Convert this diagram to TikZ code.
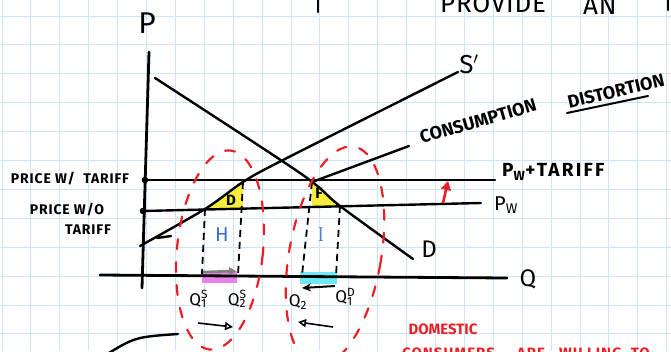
\documentclass[tikz,border=0pt]{standalone}
\usepackage{fontspec}
\setsansfont{Fira Sans}
\usetikzlibrary{arrows.meta, positioning, calc}

\definecolor{paperblue}{RGB}{204,230,248}
\definecolor{penred}{RGB}{234,32,38}
\definecolor{penblue}{RGB}{58,112,204}
\definecolor{hiyellow}{RGB}{246,236,60}
\definecolor{hipink}{RGB}{232,130,232}
\definecolor{hicyan}{RGB}{110,232,244}

\tikzset{
    pen/.style={line width=2.4pt, line cap=round, line join=round},
    guide/.style={line width=1.8pt, dash pattern=on 7pt off 5pt},
    loopline/.style={draw=penred, line width=2.2pt, line cap=round, dash pattern=on 10pt off 13pt},
    hand/.style={font=\sffamily\fontsize{#1}{#1}\selectfont, inner sep=0pt},
    hand/.default=14,
    handbf/.style={font=\sffamily\bfseries\fontsize{#1}{#1}\selectfont, inner sep=0pt},
    handbf/.default=14
}

\begin{document}
\begin{tikzpicture}[x=1pt, y=-1pt, >=Stealth]
    \useasboundingbox (0,0) rectangle (671,351);
    \clip (0,0) rectangle (671,351);
    % Graph paper
    \foreach \i in {0,...,23}
        \draw [paperblue, line width=1pt] ({2+28.9*\i},0) -- ({2+28.9*\i},351);
    \foreach \j in {0,...,11}
        \draw [paperblue, line width=1pt] (0,{16+28.9*\j}) -- (671,{16+28.9*\j});

    % Key points of the market
    \coordinate (ptop) at (149,52);
    \coordinate (pbot) at (142,288);
    \coordinate (qleft) at (100,275);
    \coordinate (qright) at (507,278);
    \coordinate (tleft) at (145,180);
    \coordinate (tright) at (495,180);
    \coordinate (wleft) at (143,211);
    \coordinate (wright) at (481,203);
    \coordinate (sw) at (205,209);
    \coordinate (st) at (243,182);
    \coordinate (dt) at (312,182);
    \coordinate (dw) at (340,206);

    % Deadweight triangles and quantity changes
    \fill [hiyellow] (sw) -- (st) -- (st |- sw) -- cycle;
    \fill [hiyellow] (dt) -- (dt |- dw) -- (dw) -- cycle;
    \fill [hipink] (202,271) rectangle (237,283);
    \fill [hicyan] (300,272) rectangle (337,284);

    % Axes
    \draw [pen, line width=2.8pt] (ptop) -- (pbot);
    \draw [pen, line width=2.8pt] (qleft) -- (qright);
    % Price with and without the tariff
    \draw [pen] (tleft) -- (tright);
    \draw [pen] (wleft) -- (wright);
    \fill (tleft) circle (3.3pt);
    \fill (wleft) circle (3.3pt);
    \draw [penred, line width=2.6pt, -{Triangle[length=9pt, width=10pt]}] (443,203) -- (448,181);
    % Demand, supply and the pointer
    \draw [pen] plot [smooth, tension=0.5] coordinates {(155,78) (300,173) (dw) (413,259)};
    \draw [pen] plot [smooth, tension=0.5] coordinates {(140,246) (sw) (st) (283,160) (458,72)};
    \draw [pen] (157,238) -- (171,236);
    \draw [pen] (dt) -- (409,146);

    % Dashed drop lines to the quantities
    \draw [guide] (sw) -- (202,274);
    \draw [guide] (st) -- (238,275);
    \draw [guide] (dt) -- (302,275);
    \draw [guide] (dw) -- (336,276);
    \draw [gray, line width=2.6pt, -{Triangle[length=7pt, width=8pt]}] (203,272) -- (236,271);
    \draw [line width=2pt, -{Stealth[length=9pt, width=8pt]}] (335,286) -- (302,288);
    \draw [line width=1.6pt, -{Triangle[open, length=8pt, width=8pt]}] (198,323) -- (233,327);
    \draw [line width=1.6pt, -{Triangle[open, length=8pt, width=8pt]}] (333,327) -- (298,322);

    % Red loops round the two losses
    \draw [loopline, rotate around={-6:(220,250)}] (220,250) ellipse (43 and 100);
    \draw [loopline, rotate around={-10:(335,256)}] (335,256) ellipse (46 and 111);

    % Labels
    \node [hand=30] (plabel) at (147,23) {P};
    \node [hand=26] (slabel) at (469,64) {S$'$};
    \node [hand=24] (dlabel) at (429,249) {D};
    \node [hand=24] (qlabel) at (528,279) {Q};
    \node [handbf=19, anchor=west] (tlabel) at (502,172) {\addfontfeature{LetterSpace=12}P\textsubscript{W}+TARIFF};
    \node [hand=20, anchor=west] (wlabel) at (494,205) {P\textsubscript{W}};
    \node [handbf=14] (wtlabel) at (70,179) {\addfontfeature{LetterSpace=6}PRICE W/\ \ TARIFF};
    \node [handbf=14] (wolabel) at (67,210) {\addfontfeature{LetterSpace=6}PRICE W/O};
    \node [handbf=14] (wolabel2) at (88,230) {\addfontfeature{LetterSpace=6}TARIFF};
    \node [handbf=15] (prodlabel) at (231,200) {D};
    \node [handbf=15] (conslabel) at (319,193) {F};
    \node [hand=20, text=penblue] (hlabel) at (222,235) {H};
    \node [hand=20, text=penblue] (ilabel) at (321,235) {\rmfamily I};
    \node [hand=17] (qsone) at (198,299) {Q\rlap{\textsuperscript{S}}\textsubscript{1}};
    \node [hand=17] (qstwo) at (237,299) {Q\rlap{\textsuperscript{S}}\textsubscript{2}};
    \node [hand=17] (qdtwo) at (298,302) {Q\textsubscript{2}};
    \node [hand=17] (qdone) at (344,297) {Q\rlap{\textsuperscript{D}}\textsubscript{1}};
    \node [handbf=18, rotate=16] (conswrd) at (478,121) {CONSUMPTION};
    \node [handbf=18, rotate=13] (distwrd) at (616,91) {DISTORTION};
    \draw [pen, line width=2pt] (567,113) -- (648,96);
    \node [handbf=15, text=penred] (domlabel) at (443,329) {DOMESTIC};
    \node [handbf=15, text=penred, anchor=base west] (willlabel) at (402,358)
        {\addfontfeature{LetterSpace=7}CONSUMERS\hspace{22pt}ARE\hspace{14pt}WILLING\hspace{9pt}TO};
    \node [hand=26, anchor=base west] (provword) at (440,12) {\addfontfeature{LetterSpace=3}PROVIDE};
    \node [hand=26, anchor=base west] (anword) at (583,14) {\addfontfeature{LetterSpace=3}AN};
    \draw [pen] (318,0) -- (318,12);
    \draw [pen] (668,0) -- (668,10);
    \draw [pen] (104,356) .. controls (135,337) .. (178,334);
\end{tikzpicture}
\end{document}
